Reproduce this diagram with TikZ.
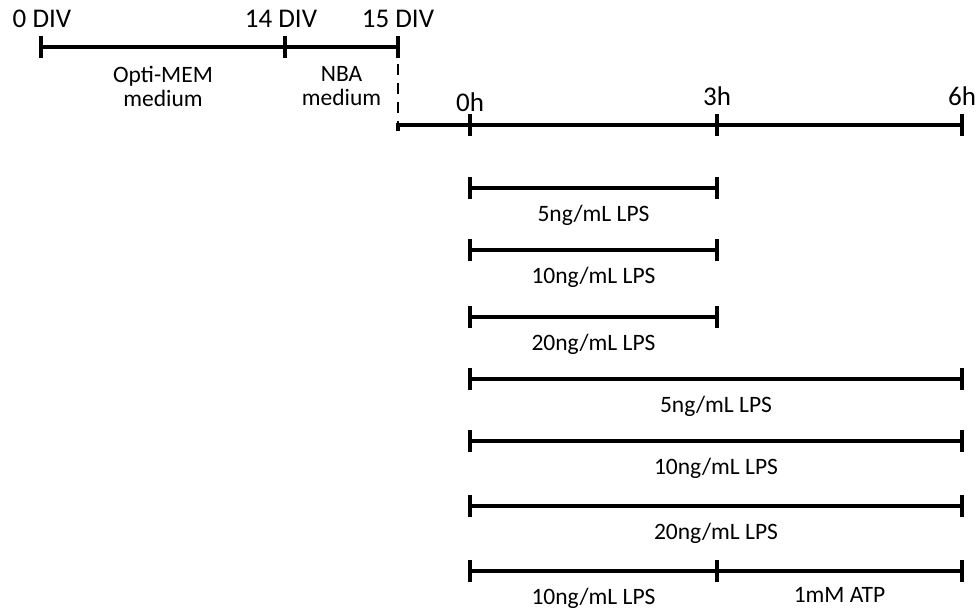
\documentclass[tikz,border=0pt]{standalone}
\usepackage{fontspec}
\setmainfont{Carlito}
\usetikzlibrary{positioning,calc}

\begin{document}
\begin{tikzpicture}[x=1pt,y=-1pt]
  \tikzstyle{bar}=[line width=3.4pt]
  \tikzstyle{tick}=[line width=4pt]
  \tikzstyle{lbl}=[inner sep=0pt,align=center,font=\fontsize{23.5}{24}\selectfont]
  \tikzstyle{ticklbl}=[inner sep=0pt,font=\fontsize{27}{28}\selectfont]
  \useasboundingbox (0,0) rectangle (979,608);
  % culture
  \coordinate (d0) at (41,47);
  \coordinate (d14) at (285,47);
  \coordinate (d15) at (398,47);
  \draw[bar] (d0) -- node[lbl,below=18pt] {Opti-MEM\\medium} (d14);
  \draw[bar] (d14) -- node[lbl,below=18pt] {NBA\\medium} (d15);
  \node[ticklbl,above=19pt of d0,xshift=1pt] {0 DIV};
  \node[ticklbl,above=19pt of d14,xshift=-4pt] {14 DIV};
  \node[ticklbl,above=19pt of d15] {15 DIV};
  % treatment axis
  \coordinate (turn) at (398,125);
  \coordinate (h0) at (470,125);
  \coordinate (h3) at (717,125);
  \coordinate (h6) at (962,125);
  \draw[line width=2.5pt,dash pattern=on 11pt off 8pt,shorten <=17pt] (d15) -- (turn);
  \draw[bar] ([yshift=-6pt]turn) -- (turn) -- (h6);
  \node[ticklbl,above=13pt of h0] {0h};
  \node[ticklbl,above=19pt of h3] {3h};
  \node[ticklbl,above=19pt of h6] {6h};
  % LPS / ATP
  \coordinate (a1) at (470,188); \coordinate (b1) at (717,188);
  \coordinate (a2) at (470,250); \coordinate (b2) at (717,250);
  \coordinate (a3) at (470,317); \coordinate (b3) at (717,317);
  \coordinate (a4) at (470,379); \coordinate (b4) at (962,379);
  \coordinate (a5) at (470,441); \coordinate (b5) at (962,441);
  \coordinate (a6) at (470,506); \coordinate (b6) at (962,506);
  \coordinate (a7) at (470,571); \coordinate (m7) at (717,571); \coordinate (b7) at (962,571);
  \draw[bar] (a1) -- node[lbl,below=15pt] {5ng/mL LPS} (b1);
  \draw[bar] (a2) -- node[lbl,below=15pt] {10ng/mL LPS} (b2);
  \draw[bar] (a3) -- node[lbl,below=15pt] {20ng/mL LPS} (b3);
  \draw[bar] (a4) -- node[lbl,below=15pt] {5ng/mL LPS} (b4);
  \draw[bar] (a5) -- node[lbl,below=15pt] {10ng/mL LPS} (b5);
  \draw[bar] (a6) -- node[lbl,below=15pt] {20ng/mL LPS} (b6);
  \draw[bar] (a7) -- node[lbl,below=15pt] {10ng/mL LPS} (m7);
  \draw[bar] (m7) -- node[lbl,below=15pt] {1mM ATP} (b7);
  \foreach \c in {d0,d14,d15,h0,h3,h6,a1,b1,a2,b2,a3,b3,a4,b4,a5,b5,a6,b6,a7,m7,b7}
    \draw[tick] ([yshift=-11pt]\c) -- ([yshift=11pt]\c);
\end{tikzpicture}
\end{document}
